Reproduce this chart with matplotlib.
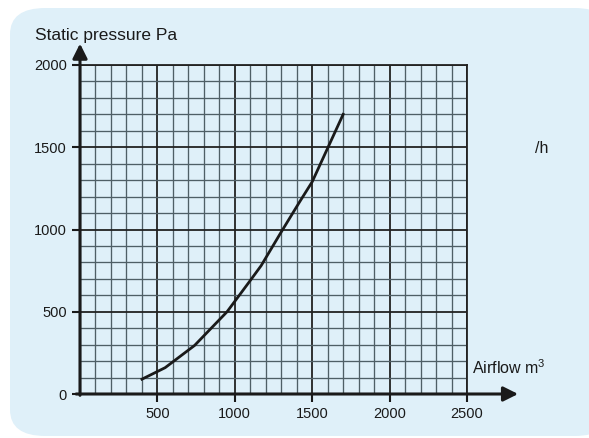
import matplotlib
matplotlib.use('Agg')
import matplotlib.pyplot as plt
from matplotlib.patches import FancyBboxPatch

plt.rcParams['font.family'] = ['Liberation Sans', 'DejaVu Sans']
plt.rcParams['mathtext.fontset'] = 'custom'
plt.rcParams['mathtext.rm'] = 'Liberation Sans'
plt.rcParams['mathtext.it'] = 'Liberation Sans'

# curve
airflow = [400, 550, 740, 950, 1100, 1170, 1300, 1420, 1500, 1700]
pressure = [90, 160, 295, 500, 690, 780, 985, 1170, 1290, 1700]

x_major = [500, 1000, 1500, 2000, 2500]
y_major = [0, 500, 1000, 1500, 2000]

W, H = 589, 438
fig = plt.figure(figsize=(W/100, H/100), dpi=100, facecolor='white')

# light blue rounded panel
panel = FancyBboxPatch((10/W, 2/H), 600/W, 428/H,
                       boxstyle='round,pad=0,rounding_size=0.06',
                       transform=fig.transFigure, facecolor='#dff0f9',
                       edgecolor='none', zorder=-5)
fig.patches.append(panel)

ax = fig.add_axes([80/W, (H-394)/H, 387/W, 329/H])
ax.set_facecolor('none')
ax.set_xlim(0, 2500)
ax.set_ylim(0, 2000)

ax.set_xticks(x_major)
ax.set_yticks(y_major)
ax.set_xticks(range(0, 2501, 100), minor=True)
ax.set_yticks(range(0, 2001, 100), minor=True)
ax.tick_params(which='minor', length=0)
ax.tick_params(which='major', length=6, width=1.5, color='#1a1a1a',
               labelsize=10.5, labelcolor='#1a1a1a', pad=3.5)

ax.grid(which='minor', color='#4f5f66', linewidth=0.95)
ax.grid(which='major', color='#222222', linewidth=1.3)

for s in ['left', 'bottom']:
    ax.spines[s].set_visible(False)
for s in ['top', 'right']:
    ax.spines[s].set_color('#222222')
    ax.spines[s].set_linewidth(1.3)

ax.plot(airflow, pressure, color='#1a1a1a', linewidth=2, zorder=5)

# axis arrows
arrow = dict(arrowstyle='-|>', lw=2.2, color='#1a1a1a', mutation_scale=22,
             shrinkA=0, shrinkB=0)
ax.annotate('', xy=(2830, 0), xytext=(-25, 0), arrowprops=arrow,
            annotation_clip=False)
ax.annotate('', xy=(0, 2130), xytext=(0, -8), arrowprops=arrow,
            annotation_clip=False)

fig.text(35/W, 1-40/H, 'Static pressure Pa', fontsize=12.5, color='#1a1a1a')
fig.text(472/W, 1-374/H, 'Airflow m$^3$', fontsize=11.5, color='#1a1a1a')
fig.text(535/W, 1-153/H, '/h', fontsize=11.5, color='#1a1a1a')

fig.savefig('out.png', dpi=100, facecolor='white')
